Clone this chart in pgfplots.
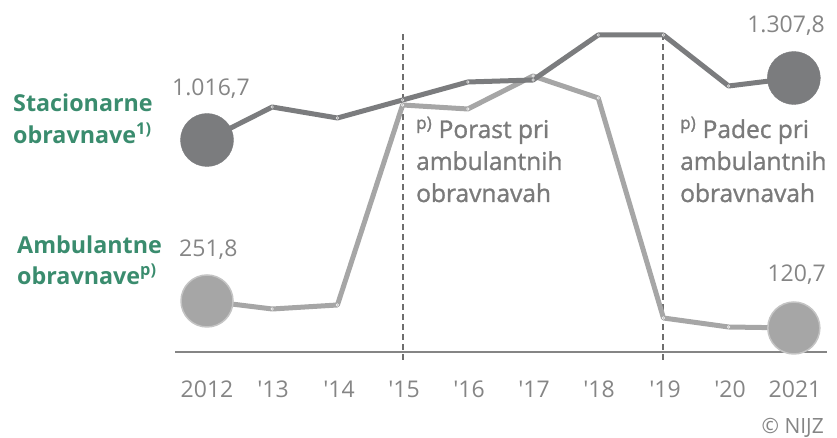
\documentclass[border=0pt]{standalone}
\usepackage{fontspec}
\setmainfont{Open Sans}
\newfontfamily\semib{Open Sans}[FakeBold=1.2]
\usepackage{pgfplots}
\pgfplotsset{compat=1.18}

\definecolor{nijzgreen}{HTML}{3A8C6E}
\definecolor{darkline}{HTML}{7B7C7E}
\definecolor{lightline}{HTML}{A6A6A6}
\definecolor{lightring}{HTML}{C4C4C4}
\definecolor{txtgray}{HTML}{858585}
\definecolor{notegray}{HTML}{7A7A7A}
\definecolor{dashgray}{HTML}{6E6E6E}

% y values: height above the picture's bottom edge (picture is 837 x 438)
\pgfplotstableread{
year stac
2012 298
2013 331
2014 320
2015 338
2016 356
2017 358
2018 403
2019 403
2020 352
2021 360
}\stacdata
\pgfplotstableread{
year amb
2012 137
2013 129
2014 133
2015 333
2016 329
2017 362
2018 340
2019 120
2020 111
2021 110
}\ambdata

\begin{document}
\begin{tikzpicture}
\path[use as bounding box] (0,0) rectangle (837pt,438pt);
\begin{axis}[
    at={(0,0)}, anchor=south west,
    scale only axis,
    width=837pt, height=438pt,
    xmin=2008.825, xmax=2021.662,
    ymin=0, ymax=438,
    axis lines=none,
    clip=false,
]
% baseline
\addplot[draw=txtgray, line width=1.4pt] coordinates {(2011.51,86) (2021.51,86)};
% dashed markers for 2015 and 2019
\addplot[draw=dashgray, line width=2pt, dash pattern=on 6pt off 4pt] coordinates {(2015,78) (2015,405)};
\addplot[draw=dashgray, line width=2pt, dash pattern=on 6pt off 4pt] coordinates {(2019,78) (2019,405)};
% series
\addplot[draw=lightline, line width=5pt, line join=round,
    mark=o, mark size=1.3pt, mark options={draw=white!85!lightline, line width=0.6pt}]
    table[x=year, y=amb] {\ambdata};
\addplot[draw=darkline, line width=5pt, line join=round,
    mark=o, mark size=1.3pt, mark options={draw=white!80!darkline, line width=0.6pt}]
    table[x=year, y=stac] {\stacdata};
% end circles
\addplot[only marks, mark=*, mark size=26pt, mark options={fill=lightline, draw=lightring, line width=1.5pt}]
    coordinates {(2012,137) (2021,110)};
\addplot[only marks, mark=*, mark size=26.5pt, mark options={fill=darkline, draw=darkline}]
    coordinates {(2012,298) (2021,360)};
\end{axis}

% series labels
\begin{scope}[every node/.style={anchor=base west, inner sep=0pt, text=nijzgreen, font=\fontsize{23.3}{28}\selectfont\bfseries}]
\node at (13pt,326pt) {Stacionarne};
\node at (13pt,294pt) {obravnave\textsuperscript{1)}};
\node at (17pt,184pt) {Ambulantne};
\node at (17pt,153pt) {obravnave\textsuperscript{p)}};
\end{scope}

% value labels
\begin{scope}[every node/.style={inner sep=0pt, text=txtgray, font=\fontsize{23}{28}\selectfont}]
\node[anchor=base west] at (172pt,342pt) {1.016,7};
\node[anchor=base west] at (179pt,181pt) {251,8};
\node[anchor=base east] at (825pt,405pt) {1.307,8};
\node[anchor=base east] at (826pt,156pt) {120,7};
% year ticks
\foreach \px/\lab in {207/2012, 273/\textquotesingle13, 339/\textquotesingle14, 404/\textquotesingle15, 469/\textquotesingle16, 534/\textquotesingle17, 599/\textquotesingle18, 665/\textquotesingle19, 730/\textquotesingle20, 795/2021}
  \node[anchor=base] at (\px pt,40pt) {\lab};
\node[anchor=base east, font=\fontsize{21}{25}\selectfont] at (824pt,4pt) {\textcopyright{} NIJZ};
\end{scope}

% annotations
\begin{scope}[every node/.style={anchor=base west, inner sep=0pt, text=notegray, font=\fontsize{24.5}{29}\semib}]
\node at (416pt,300pt) {\textsuperscript{p)} Porast pri};
\node at (416pt,268pt) {ambulantnih};
\node at (416pt,236pt) {obravnavah};
\node at (680pt,300pt) {\textsuperscript{p)} Padec pri};
\node at (680pt,268pt) {ambulantnih};
\node at (680pt,236pt) {obravnavah};
\end{scope}
\end{tikzpicture}
\end{document}
